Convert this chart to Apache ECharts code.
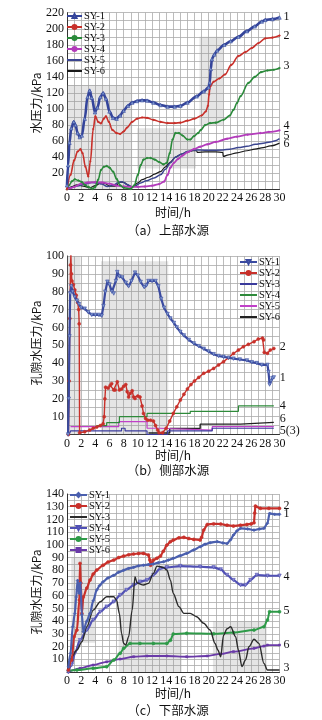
<!DOCTYPE html>
<html>
<head>
<meta charset="utf-8">
<script src="https://cdn.jsdelivr.net/npm/echarts@6/dist/echarts.min.js"></script>
<style>
html,body{margin:0;padding:0;background:#fff}
#c{width:322px;height:720px}
</style>
</head>
<body>
<div id="c"></div>
<script>
// ---- shared axis ----
const X_MIN = 0, X_MAX = 30, X_STEP = 2;
const SERIES_NAMES = ['SY-1', 'SY-2', 'SY-3', 'SY-4', 'SY-5', 'SY-6'];

// ---- (a) 上部水源: [time h, pressure kPa] ----
const A_SY1 = [[0,5],[0.15,30],[0.35,58],[0.6,76],[0.95,84],[1.2,80],[1.5,70],[1.8,65],[2.1,67],[2.5,88],[2.9,115],[3.2,123],[3.5,114],[3.95,96],[4.3,102],[4.7,115],[5.1,120],[5.5,113],[6.0,97],[6.5,89],[7.0,88],[7.5,92],[8.0,98],[8.6,104],[9.2,108],[9.9,110],[10.6,111],[11.3,110.5],[12.2,108],[13.2,105],[14.2,103],[15.2,103],[16,104],[17,108],[18.3,115.8],[19.3,122],[20,127],[20.15,133],[20.3,150],[20.45,162],[20.8,168],[21.2,173],[22.2,180],[23.1,184.5],[24.2,190],[25.4,197],[26.5,203],[27.5,209],[28,211],[29,212],[30,214]];
const A_SY2 = [[0,0],[0.5,18],[1.0,36],[1.5,47],[1.9,50],[2.2,45],[2.6,28],[3.0,16],[3.3,35],[3.7,75],[4.0,91],[4.4,84],[4.8,82],[5.2,88],[5.5,91],[5.9,84],[6.4,74],[7.0,70],[7.5,69],[8.0,72],[8.5,77],[9.2,84],[9.9,88],[10.6,89.5],[11.3,89],[12.2,86.5],[13.2,84],[14.2,82.5],[15.2,82.5],[16,83],[17,85.5],[18,88],[19,92],[19.6,97],[19.9,104],[20.05,118],[20.2,128],[20.7,134],[21.5,138],[22.3,143],[23.2,155],[24.2,166],[25.2,171],[26.1,176],[27,182],[28,188],[29,189],[30,191.5]];
const A_SY3 = [[0,0],[0.3,5],[0.7,10],[1.1,12.5],[1.6,11],[2.1,9],[2.6,5],[3.0,3],[3.6,0.5],[4.0,3],[4.4,12],[4.8,24],[5.2,28],[5.6,29],[6.0,27],[6.5,22],[7.0,13],[7.5,5],[8.0,2],[9.0,0.5],[9.5,5],[10.0,18],[10.4,30],[10.8,37],[11.3,39],[11.8,39],[12.4,37],[13.0,34],[13.6,31],[14.1,33],[14.5,45],[14.9,62],[15.3,70],[15.8,70],[16.3,67],[17.0,62],[17.4,62],[17.9,66],[18.5,70],[18.9,74],[19.5,80],[20.2,82.5],[21.0,83],[22.1,86.6],[23.0,92],[23.5,99],[24.0,107.5],[24.5,116],[25.6,132.5],[26.5,140],[27.4,146],[28.3,148],[29.2,149],[30,151]];
const A_SY4 = [[0,0],[0.5,1.5],[1,3],[2,7],[3,8.5],[4,9],[5,8.5],[6,7],[7,4.5],[8,3.5],[9,3],[10,3],[11,3.5],[12,4.5],[13,6.5],[13.7,9.6],[14.2,18],[14.6,27],[15.1,33],[15.7,38],[16.3,42],[17,46],[17.9,50],[18.8,53],[19.8,56],[21,59],[22.6,63],[24,65.5],[25.5,68],[27.3,70],[28.5,71.5],[30,73.5]];
const A_SY5 = [[0,0],[0.5,2],[1.5,4],[2.5,6.5],[3.5,8.5],[4.3,8],[4.9,6.5],[5.7,3.5],[6.5,5],[7.3,8.5],[7.8,9.5],[8.5,6],[9.1,3],[9.6,4],[10.4,8],[11.2,10.5],[12.3,14],[13.2,18],[13.9,25],[14.6,33],[15.3,40],[16.2,44],[17,47],[17.9,49],[18.8,49],[20,48.5],[22,49],[23,50],[24.2,52],[25.4,53.5],[26.6,56],[27.7,57.5],[28.7,59],[29.4,60.5],[30,63]];
const A_SY6 = [[0,0],[0.6,3],[1.4,5.5],[2.3,4],[3.2,2],[4.0,4.5],[4.8,8],[5.4,7],[6.0,4],[6.8,4],[7.5,9],[8.1,8.5],[8.7,4.5],[9.3,3],[10.0,8],[10.6,12],[11.5,15],[12.4,19],[13.2,22],[13.9,28],[14.6,34],[15.3,40],[16.2,44],[17.0,46.5],[17.8,48],[18.3,48],[18.4,46],[19.5,46.5],[21,46.5],[22,46],[22.05,41],[22.8,43],[24,45.5],[25.4,48],[26.5,50],[27.7,52],[28.7,54],[30,57.5]];
// shaded stages: [x0, y0, x1, y1]
const A_SHADE = [[0,0,9.2,130],[9.9,26,18.2,76],[18.7,80,22.1,190]];

// ---- (b) 侧部水源 ----
const B_SY1 = [[0.15,0],[0.25,20],[0.35,55],[0.45,79],[0.6,83],[0.8,80],[1.1,77],[1.4,75],[1.7,73],[2.0,71],[2.5,70.5],[3.0,68.5],[3.5,67],[4.0,67],[4.5,67],[4.9,66.5],[5.15,72],[5.4,80],[5.7,85.6],[6.0,84],[6.35,80],[6.6,79],[6.9,86],[7.1,91],[7.4,88.5],[7.8,88],[8.3,85],[8.7,83],[9.1,86],[9.6,90.7],[10.0,89],[10.4,85.5],[10.9,82.5],[11.2,83.5],[11.5,86],[12.0,86],[12.5,86],[12.9,83],[13.3,76],[13.7,71],[14.2,67.5],[14.6,65],[15.1,62.5],[15.5,60],[16.0,57.5],[16.5,55.5],[17.2,53],[17.9,51],[18.6,49.5],[19.3,48],[20.0,46.5],[20.7,45],[21.4,44],[22.1,43.5],[22.8,43],[23.5,42.5],[24.4,42],[25.4,41.5],[26.1,40.5],[26.8,40],[27.5,39],[28.3,39],[28.45,35],[28.6,28],[28.8,30],[29.0,31.5],[29.2,32]];
const B_SY2 = [[0.2,0],[0.3,30],[0.4,65],[0.5,95],[0.55,100.5],[0.62,90],[0.7,86],[0.9,84],[1.1,81],[1.3,78],[1.5,74],[1.65,70],[1.72,62],[1.78,1],[2.5,1.5],[3.2,2.5],[3.7,3.5],[4.2,4.2],[4.7,5],[5.1,6],[5.25,10],[5.35,20],[5.45,26.5],[5.8,26],[6.1,27.5],[6.3,28.5],[6.6,25],[6.8,25],[7.1,29.5],[7.4,25],[7.7,25.5],[8.0,27],[8.3,28],[8.5,24],[8.7,21],[8.9,23],[9.2,24.5],[9.4,21],[9.6,20.2],[10.0,21.5],[10.3,21],[10.6,16],[10.8,11.8],[11.1,9],[11.4,8],[11.8,8],[12.2,7.5],[12.5,5],[12.8,2.5],[13.0,1],[13.5,1],[14.0,3.5],[14.5,7.5],[15.0,11.8],[15.5,15.5],[16.0,19.3],[16.5,22.5],[17.0,25.5],[17.5,28],[18.0,30],[18.6,32],[19.3,34.3],[20.0,35.5],[20.7,37],[21.4,39],[22.1,40.8],[22.8,43],[23.5,45.4],[24.2,47.3],[24.9,49.2],[25.6,50.5],[26.4,52],[27.0,53.5],[27.6,54],[27.75,53],[27.85,46],[28.3,45.5],[28.7,47.3],[29.2,48.2]];
const B_SY3 = [[0.3,0],[0.5,0],[0.5,2],[7.7,2],[7.7,3.5],[8.2,3.5],[8.2,2],[11.3,2],[11.3,0],[14.2,0],[14.2,2],[20.5,2],[20.5,3.5],[29.2,3.5]];
const B_SY4 = [[4.2,5],[5.6,5],[5.6,6.6],[7.4,6.6],[7.4,10],[11.3,10],[11.3,11.8],[17.4,11.8],[17.4,13],[24.2,13],[24.2,16],[29.2,16]];
const B_SY5 = [[0.5,4.4],[7.3,4.4],[7.3,7.2],[11.3,7.2],[11.3,3.5],[13,3.5],[13,2.4],[20.5,2.4],[20.5,4.4],[29.2,4.4]];
const B_SY6 = [[11.5,0.8],[14.5,0.8],[14.5,3.4],[18.8,3.4],[18.8,5.8],[24.5,5.8],[24.5,6.8],[29.2,6.8]];
const B_SHADE = [[0,0,1.9,100],[4.8,0,14.3,97]];

// ---- (c) 下部水源 ----
const C_SY1 = [[0.2,4],[0.5,14.7],[0.8,35.6],[1.1,46],[1.3,59],[1.5,72],[1.7,62],[1.9,70],[2.1,45],[2.3,31.7],[2.8,40],[3.25,46],[3.7,56],[4.2,64.5],[4.6,68],[5.1,71],[5.8,74],[6.6,76],[7.3,78.5],[8,80],[8.7,81.5],[9.4,82.3],[10.1,83.5],[10.8,84],[11.5,84.5],[12.2,85],[12.9,86],[13.6,86.7],[14.3,88],[15,89.4],[16,91.5],[16.9,93.3],[17.9,96],[18.8,98.5],[19.5,100.5],[20.2,101.7],[21.2,102.5],[22,101.5],[22.6,101],[23.1,104],[23.5,107.7],[24,111],[24.5,113],[25.5,112.5],[26.4,111.6],[27.2,112.5],[27.8,113],[28.3,117],[28.6,124.7],[29.3,124],[30,124]];
const C_SY2 = [[0.2,1.6],[0.66,9.4],[1.0,27.8],[1.4,33],[1.75,56.6],[1.84,85.4],[1.95,70],[2.1,46],[2.3,59],[2.8,66],[3.25,72.3],[3.7,77],[4.2,80.2],[5.1,84],[5.8,86.5],[6.6,88],[7.3,90],[8,91.2],[8.7,92.2],[9.4,92.8],[10.1,93.2],[10.8,93.3],[11.5,92],[11.7,88],[11.8,84],[12.0,86],[12.2,88],[12.7,89.5],[13.2,91.2],[13.6,95],[14.1,99.8],[14.6,102.5],[15,103.8],[15.8,105.5],[16.5,105.9],[17.2,105],[17.9,104.3],[18.8,103.8],[19.0,106],[19.3,111.6],[19.8,116],[20.7,116.5],[21.7,116.4],[22.6,115.5],[23.5,114.8],[24.5,115.5],[25.4,116],[26,116.5],[26.4,117.4],[26.5,125],[26.6,130.5],[27.3,128.7],[28.5,128.7],[30,128.7]];
const C_SY3 = [[0.2,2.9],[0.66,12],[1.4,17.3],[2.1,23.8],[2.8,35.6],[3.7,48.7],[4.7,55.3],[5.6,59.2],[6.6,59.2],[7.0,56.6],[7.4,46],[7.7,30.4],[8.0,22.5],[8.3,21.2],[8.7,27.8],[9.2,48.7],[9.6,75],[9.9,70],[10.8,68.4],[11.5,69.7],[12.2,77.6],[12.7,83.3],[13.6,82.3],[14.1,80.2],[14.6,72.3],[15.0,61.8],[15.8,51.4],[16.5,46.1],[17.4,46.1],[18.3,43.5],[19.3,38.3],[20.2,33],[20.9,22.5],[21.3,17.3],[21.7,12],[22.1,29],[22.6,34],[23.1,35.6],[23.8,27.8],[24.2,17.3],[24.7,4.2],[25.2,9.4],[25.7,20],[26.4,25.7],[27.1,22.5],[27.8,6.8],[28.3,1.6],[30,1.6]];
const C_SY4 = [[0.2,0],[0.66,5.5],[1.1,14.7],[1.84,25],[2.8,33],[3.7,41],[4.7,47.4],[5.6,51.4],[6.6,55.3],[7.5,60.5],[8.4,64.5],[9.4,68.4],[10.3,71],[11.3,72.3],[12.2,76.3],[13.2,81.5],[14.1,82.3],[16,83.3],[18.8,82.8],[20.7,82.3],[21.7,80.7],[22.6,76.3],[23.5,72.3],[24.5,68.4],[25.2,68.4],[25.9,72.3],[26.8,76.3],[28.3,75.7],[30,75.7]];
const C_SY5 = [[0.2,1],[1.4,1.6],[3.7,2.9],[5.6,4.2],[6.6,9.4],[7.5,14.7],[8,18.6],[8.9,22.5],[10.3,22.5],[12.2,22.5],[14.1,22.5],[14.6,25],[15,29.9],[16.9,30.4],[20.7,30],[23.5,31],[26.4,33],[27.8,35.6],[28.3,40.9],[28.6,47.4],[30,47.4]];
const C_SY6 = [[0.2,0],[1.84,2.9],[3.7,5.5],[5.6,8],[7.5,10.2],[9.4,12],[11.3,12.6],[14.1,12.6],[16.9,12],[19.8,12.6],[21.7,14.2],[23.5,16],[26.4,18.6],[27.8,20.4],[28.3,21.2],[30,21.2]];
const C_SHADE = [[0.6,23,4,90],[7.3,0,16.2,85],[20.6,0,28.2,40]];

// ---- styling ----
const NUM_FONT = '"Liberation Serif", "DejaVu Serif", serif';
const CJK_FONT = '"Noto Sans CJK SC", sans-serif';
const GRID_LINE = { color: '#ababab', width: 0.8 };
const SHADE_COLOR = 'rgba(150,150,150,0.25)';

const panels = [
  { key: 'a', top: 12.7, height: 176.6, yMax: 220, yStep: 20, shade: A_SHADE,
    yTitle: '水压力/kPa', yTitleY: 103, xTitleY: 212, caption: '（a）上部水源', captionY: 230,
    legend: { left: 66, top: 10.5, itemWidth: 15 },
    lines: [
      { d: A_SY1, c: '#34449a', w: 2.6, sym: 'triangle', fill: '#7f9bd0', ss: 3.5, tag: '1', off: [0, -1] },
      { d: A_SY2, c: '#c8302a', w: 1.6, sym: 'circle', fill: '#c8302a', ss: 1.6, tag: '2', off: [0, 0] },
      { d: A_SY3, c: '#2a8a3a', w: 1.6, sym: 'circle', fill: '#2a8a3a', ss: 1.6, tag: '3', off: [0, -2] },
      { d: A_SY4, c: '#b33cbb', w: 1.8, sym: 'circle', fill: '#b33cbb', ss: 1.6, tag: '4', off: [0, -4] },
      { d: A_SY5, c: '#3b4590', w: 1.5, sym: 'none', tag: '5', off: [0, -3] },
      { d: A_SY6, c: '#1a1a1a', w: 1.2, sym: 'none', tag: '6', off: [0, 1] }
    ], smooth: 0.35 },
  { key: 'b', top: 256, height: 178.5, yMax: 100, yStep: 10, shade: B_SHADE,
    yTitle: '孔隙水压力/kPa', yTitleY: 343, xTitleY: 455, caption: '（b）侧部水源', captionY: 470,
    legend: { left: 239, top: 256.5, itemWidth: 17 },
    lines: [
      { d: B_SY1, c: '#3a4aa0', w: 2.2, sym: 'triangle', rot: 180, fill: '#7f9bd0', ss: 3.5, tag: '1', off: [2, 0] },
      { d: B_SY2, c: '#c8302a', w: 1.4, sym: 'circle', fill: '#c8302a', ss: 3, tag: '2', off: [2, -2] },
      { d: B_SY3, c: '#3a3a9c', w: 1.2, sym: 'none' },
      { d: B_SY4, c: '#2e8a3a', w: 1.2, sym: 'none', tag: '4', off: [2, 0] },
      { d: B_SY5, c: '#c040c8', w: 1.2, sym: 'none', tag: '5(3)', off: [2, 4] },
      { d: B_SY6, c: '#222222', w: 1.4, sym: 'none', tag: '6', off: [2, -4] }
    ], smooth: false },
  { key: 'c', top: 494, height: 178, yMax: 140, yStep: 10, shade: C_SHADE,
    yTitle: '孔隙水压力/kPa', yTitleY: 592, xTitleY: 693, caption: '（c）下部水源', captionY: 710,
    legend: { left: 69, top: 489.5, itemWidth: 17 },
    lines: [
      { d: C_SY1, c: '#4a5fae', w: 2.2, sym: 'diamond', fill: '#4a5fae', ss: 3, tag: '1', off: [0, 0] },
      { d: C_SY2, c: '#c8302a', w: 2.2, sym: 'circle', fill: '#c8302a', ss: 3, tag: '2', off: [0, -3] },
      { d: C_SY3, c: '#2a2a2a', w: 1.4, sym: 'none', tag: '3', off: [0, -2] },
      { d: C_SY4, c: '#5050b4', w: 2.2, sym: 'triangle', rot: 180, fill: '#8a8ad0', ss: 3.5, tag: '4', off: [0, 1] },
      { d: C_SY5, c: '#2e9a48', w: 2.0, sym: 'circle', fill: '#2e9a48', ss: 3, tag: '5', off: [0, -1] },
      { d: C_SY6, c: '#6a3aa8', w: 1.8, sym: 'rect', fill: '#6a3aa8', ss: 2, tag: '6', off: [0, 0] }
    ], smooth: 0.3 }
];

const grids = [], xAxes = [], yAxes = [], series = [], legends = [], graphics = [];

panels.forEach((p, i) => {
  grids.push({ left: 67, right: 42.5, top: p.top, height: p.height });
  xAxes.push({
    gridIndex: i, type: 'value', min: X_MIN, max: X_MAX, interval: X_STEP,
    axisLine: { show: true, onZero: false, lineStyle: { color: '#333', width: 1 } },
    axisTick: { show: false },
    axisLabel: { fontFamily: NUM_FONT, fontSize: 12, color: '#111', margin: 3 },
    splitLine: { show: true, lineStyle: GRID_LINE },
    minorTick: { show: false, splitNumber: 2 },
    minorSplitLine: { show: true, lineStyle: GRID_LINE }
  });
  yAxes.push({
    gridIndex: i, type: 'value', min: 0, max: p.yMax, interval: p.yStep,
    axisLine: { show: true, lineStyle: { color: '#333', width: 1 } },
    axisTick: { show: false },
    axisLabel: { fontFamily: NUM_FONT, fontSize: 12, color: '#111', margin: 3, showMinLabel: false },
    splitLine: { show: true, lineStyle: GRID_LINE },
    minorTick: { show: false, splitNumber: 2 },
    minorSplitLine: { show: true, lineStyle: GRID_LINE }
  });

  const legendItems = [];
  p.lines.forEach((ln, j) => {
    const name = p.key + '|' + SERIES_NAMES[j];
    // plain lines get a marker-free legend icon
    legendItems.push(ln.sym === 'none' ? { name, itemStyle: { opacity: 0 } } : { name });
    const s = {
      type: 'line', name, xAxisIndex: i, yAxisIndex: i, data: ln.d,
      smooth: p.smooth, smoothMonotone: p.smooth ? 'x' : undefined,
      lineStyle: { color: ln.c, width: ln.w },
      itemStyle: { color: ln.fill || ln.c, borderColor: ln.c, borderWidth: 0.6 },
      symbol: ln.sym, symbolSize: ln.ss || 0, symbolRotate: ln.rot || 0,
      showSymbol: ln.sym !== 'none', showAllSymbol: true,
      animation: false, z: 10 - j,
      emphasis: { disabled: true }
    };
    if (ln.tag) {
      s.endLabel = {
        show: true, formatter: ln.tag, distance: 4, offset: ln.off,
        fontFamily: NUM_FONT, fontSize: 12, color: '#111'
      };
    }
    if (j === 0) {
      s.markArea = {
        silent: true,
        itemStyle: { color: SHADE_COLOR },
        data: p.shade.map(r => [{ coord: [r[0], r[1]] }, { coord: [r[2], r[3]] }])
      };
    }
    series.push(s);
  });

  legends.push({
    data: legendItems, orient: 'vertical', left: p.legend.left, top: p.legend.top,
    itemWidth: p.legend.itemWidth, itemHeight: 5, itemGap: 0,
    formatter: n => n.split('|')[1],
    textStyle: { fontFamily: NUM_FONT, fontSize: 10.5, color: '#111', lineHeight: 10.7, padding: [0, 0, 0, -3] },
    selectedMode: false, padding: 0, z: 20
  });

  graphics.push(
    { type: 'text', x: 36, y: p.yTitleY, rotation: Math.PI / 2,
      style: { text: p.yTitle, font: '12px ' + CJK_FONT, fill: '#111', textAlign: 'center', textVerticalAlign: 'middle' } },
    { type: 'text', x: 173, y: p.xTitleY,
      style: { text: '时间/h', font: '12px ' + CJK_FONT, fill: '#111', textAlign: 'center', textVerticalAlign: 'middle' } },
    { type: 'text', x: 168, y: p.captionY,
      style: { text: p.caption, font: '12.5px ' + CJK_FONT, fill: '#111', textAlign: 'center', textVerticalAlign: 'middle' } }
  );
});

const chart = echarts.init(document.getElementById('c'), null, { renderer: 'canvas' });
chart.setOption({
  backgroundColor: '#ffffff',
  animation: false,
  grid: grids, xAxis: xAxes, yAxis: yAxes,
  legend: legends, series, graphic: graphics
});
</script>
</body>
</html>
